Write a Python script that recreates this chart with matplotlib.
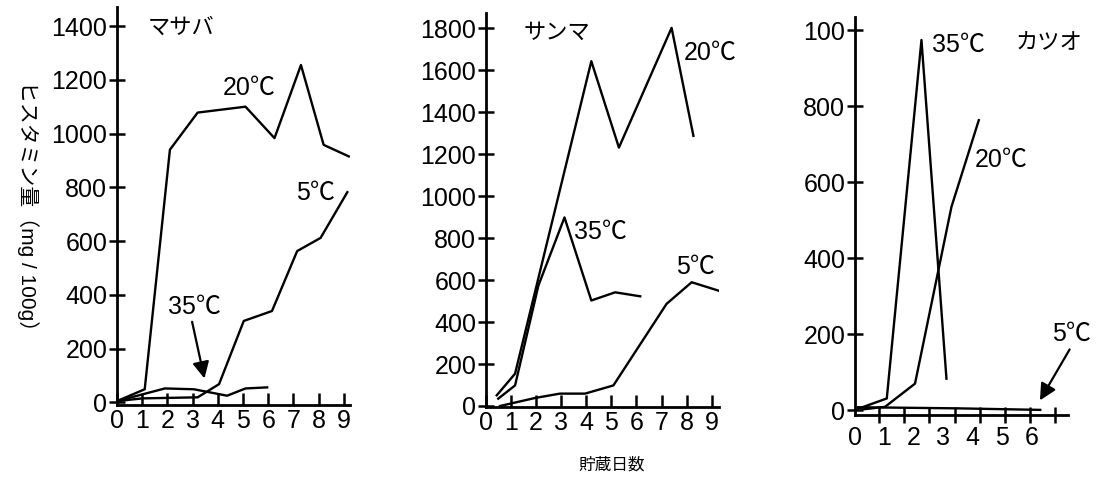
import numpy as np
import matplotlib.pyplot as plt

plt.rcParams['font.family'] = ['Liberation Sans', 'Noto Sans CJK JP', 'DejaVu Sans']

# マサバ (chub mackerel)
saba_days_20 = [0, 1.1, 2.1, 3.2, 5.1, 6.25, 7.3, 8.2, 9.2]
saba_vals_20 = [5, 49, 940, 1078, 1100, 983, 1255, 958, 915]
saba_days_5 = [0, 1.0, 3.2, 4.05, 5.03, 6.15, 7.15, 8.08, 9.14]
saba_vals_5 = [5, 15, 19, 68, 303, 340, 563, 612, 782]
saba_days_35 = [0, 1.9, 3.05, 4.37, 5.1, 5.96]
saba_vals_35 = [5, 52, 49, 25, 52, 56]

# サンマ (saury)
sanma_days_20 = [0.43, 1.16, 4.2, 5.3, 7.4, 8.27]
sanma_vals_20 = [51, 154, 1644, 1232, 1803, 1288]
sanma_days_35 = [0.49, 1.16, 2.09, 3.13, 4.2, 5.15, 6.15]
sanma_vals_35 = [35, 98, 574, 899, 503, 542, 523]
sanma_days_5 = [0.56, 1.95, 2.95, 3.95, 5.08, 7.2, 8.2, 9.27]
sanma_vals_5 = [0, 38, 59, 59, 98, 487, 590, 550]

# カツオ (skipjack)
katsuo_days_35 = [0.11, 1.08, 2.26, 3.11]
katsuo_vals_35 = [4, 31, 974, 83]
katsuo_days_20 = [0.23, 1.02, 2.04, 3.28, 4.21]
katsuo_vals_20 = [2, 9, 70, 535, 763]
katsuo_days_5 = [0.1, 3.5, 6.3]
katsuo_vals_5 = [8, 5, 1]

saba_yticks = [0, 200, 400, 600, 800, 1000, 1200, 1400]
sanma_yticks = [0, 200, 400, 600, 800, 1000, 1200, 1400, 1600, 1800]
katsuo_yticks = [0, 200, 400, 600, 800, 1000]
katsuo_ylabels = ["0", "200", "400", "600", "800", "100"]

lw = 1.7
tick_fs = 18
label_fs = 18
name_fs = 16
arrow = dict(arrowstyle="-|>", lw=1.6, color="black",
             mutation_scale=25, shrinkA=0, shrinkB=0)


def style(ax):
    for s in ("top", "right"):
        ax.spines[s].set_visible(False)
    for s in ("left", "bottom"):
        ax.spines[s].set_linewidth(2)
    ax.tick_params(axis="y", direction="inout", length=12, width=1.8,
                   labelsize=tick_fs, pad=1)
    ax.tick_params(axis="x", direction="in", length=9, width=1.8,
                   labelsize=tick_fs, pad=3)


fig = plt.figure(figsize=(11.1, 4.8), dpi=100)

# panel 1
ax1 = fig.add_axes([0.1054, 0.156, 0.21, 0.829])
ax1.plot(saba_days_20, saba_vals_20, color="black", lw=lw)
ax1.plot(saba_days_5, saba_vals_5, color="black", lw=lw)
ax1.plot(saba_days_35, saba_vals_35, color="black", lw=lw)
ax1.set_xlim(0, 9.25)
ax1.set_ylim(-10, 1470)
ax1.set_xticks(range(10))
ax1.set_yticks(saba_yticks)
style(ax1)
ax1.text(1.2, 1391, "マサバ", fontsize=name_fs, va="center", ha="left")
ax1.text(5.23, 1169, "20℃", fontsize=label_fs, ha="center", va="center")
ax1.text(7.88, 779, "5℃", fontsize=label_fs, ha="center", va="center")
ax1.text(3.09, 355, "35℃", fontsize=label_fs, ha="center", va="center")
ax1.annotate("", xy=(3.47, 89), xytext=(2.98, 300), arrowprops=arrow)
fig.text(0.025, 0.56, "ヒスタミン量（mg / 100g）", rotation=270,
         fontsize=15, ha="center", va="center")

# panel 2
ax2 = fig.add_axes([0.4378, 0.152, 0.2095, 0.821])
ax2.plot(sanma_days_20, sanma_vals_20, color="black", lw=lw)
ax2.plot(sanma_days_35, sanma_vals_35, color="black", lw=lw)
ax2.plot(sanma_days_5, sanma_vals_5, color="black", lw=lw)
ax2.set_xlim(0, 9.27)
ax2.set_ylim(-5, 1874)
ax2.set_xticks(range(10))
ax2.set_yticks(sanma_yticks)
style(ax2)
ax2.text(1.5, 1779, "サンマ", fontsize=name_fs, va="center", ha="left")
ax2.text(8.94, 1684, "20℃", fontsize=label_fs, ha="center", va="center")
ax2.text(4.55, 828, "35℃", fontsize=label_fs, ha="center", va="center")
ax2.text(8.34, 661, "5℃", fontsize=label_fs, ha="center", va="center")

# panel 3
ax3 = fig.add_axes([0.7703, 0.135, 0.192, 0.83])
ax3.plot(katsuo_days_35, katsuo_vals_35, color="black", lw=lw)
ax3.plot(katsuo_days_20, katsuo_vals_20, color="black", lw=lw)
ax3.plot(katsuo_days_5, katsuo_vals_5, color="black", lw=lw)
ax3.set_xlim(0, 7.25)
ax3.set_ylim(-13, 1035)
ax3.set_xticks(range(7))
ax3.set_xticks(np.arange(1, 9) * 0.853 - 0.026, minor=True)
ax3.set_yticks(katsuo_yticks)
ax3.set_yticklabels(katsuo_ylabels)
style(ax3)
ax3.tick_params(axis="x", which="major", length=0, pad=8)
ax3.tick_params(axis="x", which="minor", direction="inout", length=12, width=1.8)
ax3.text(3.51, 960, "35℃", fontsize=label_fs, ha="center", va="center")
ax3.text(4.98, 658, "20℃", fontsize=label_fs, ha="center", va="center")
ax3.text(6.6, 965, "カツオ", fontsize=name_fs, ha="center", va="center")
ax3.text(7.36, 200, "5℃", fontsize=label_fs, ha="center", va="center")
ax3.annotate("", xy=(6.29, 26), xytext=(7.3, 160), arrowprops=arrow)

fig.text(0.551, 0.031, "貯蔵日数", fontsize=12, ha="center", va="center")

fig.savefig("out.png", dpi=100)
